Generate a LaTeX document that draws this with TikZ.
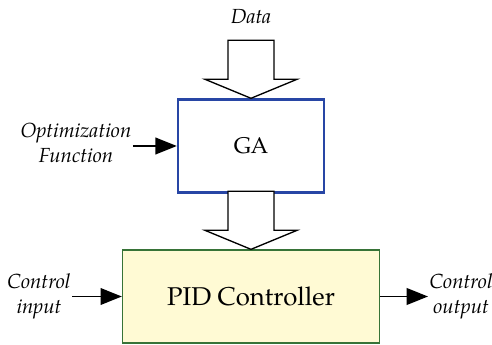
\documentclass[tikz,border=0pt]{standalone}
\usepackage{fontspec}
\setmainfont{TeX Gyre Pagella}
\usetikzlibrary{arrows.meta, positioning}
\definecolor{gablue}{RGB}{40,70,165}
\definecolor{pidgreen}{RGB}{55,115,55}
\definecolor{pidfill}{RGB}{255,250,212}

\begin{document}
\begin{tikzpicture}[
    x=0.75pt, y=-0.75pt,
    gabox/.style={rectangle, draw=gablue, line width=1.8pt, minimum width=109.5pt, minimum height=69.75pt, font=\fontsize{17}{20}\selectfont},
    pidbox/.style={rectangle, draw=pidgreen, line width=1pt, fill=pidfill, minimum width=192.75pt, minimum height=69.75pt, font=\fontsize{19.3}{22}\selectfont},
    lbl/.style={font=\fontsize{15.3}{18.6}\selectfont\itshape, align=center, inner sep=1pt},
    arr/.style={-{Triangle[length=16pt, width=12.5pt]}, line width=1.3pt},
    bigarr/.style={draw, line width=1pt, fill=white, line join=miter},
]
\useasboundingbox (0,0) rectangle (492,345);

\node[gabox]  (ga)  at (251,146)   {GA};
\node[pidbox] (pid) at (251,296.5) {PID Controller};
\node[lbl] (data) at (251,17) {Data};
\node[lbl] (opt)  at (76,143) {Optimization\\Function};
\node[lbl] (cin)  at (39,296) {Control\\input};
\node[lbl, anchor=west] (cout) at (428,296) {Control\\output};

% wide arrows into the boxes
\draw[bigarr] (ga.north) -- ++(-46,-19) -- ++(23,0) -- ++(0,-39) -- ++(46,0) -- ++(0,39) -- ++(23,0) -- cycle;
\draw[bigarr] (pid.north) -- ++(-46,-19) -- ++(23,0) -- ++(0,-39) -- ++(46,0) -- ++(0,39) -- ++(23,0) -- cycle;

\draw[arr] (opt.east |- ga.west) -- (ga.west);
\draw[arr] (cin.east |- pid.west) -- (pid.west);
\draw[arr] (pid.east) -- (cout.west |- pid.east);
\end{tikzpicture}
\end{document}
